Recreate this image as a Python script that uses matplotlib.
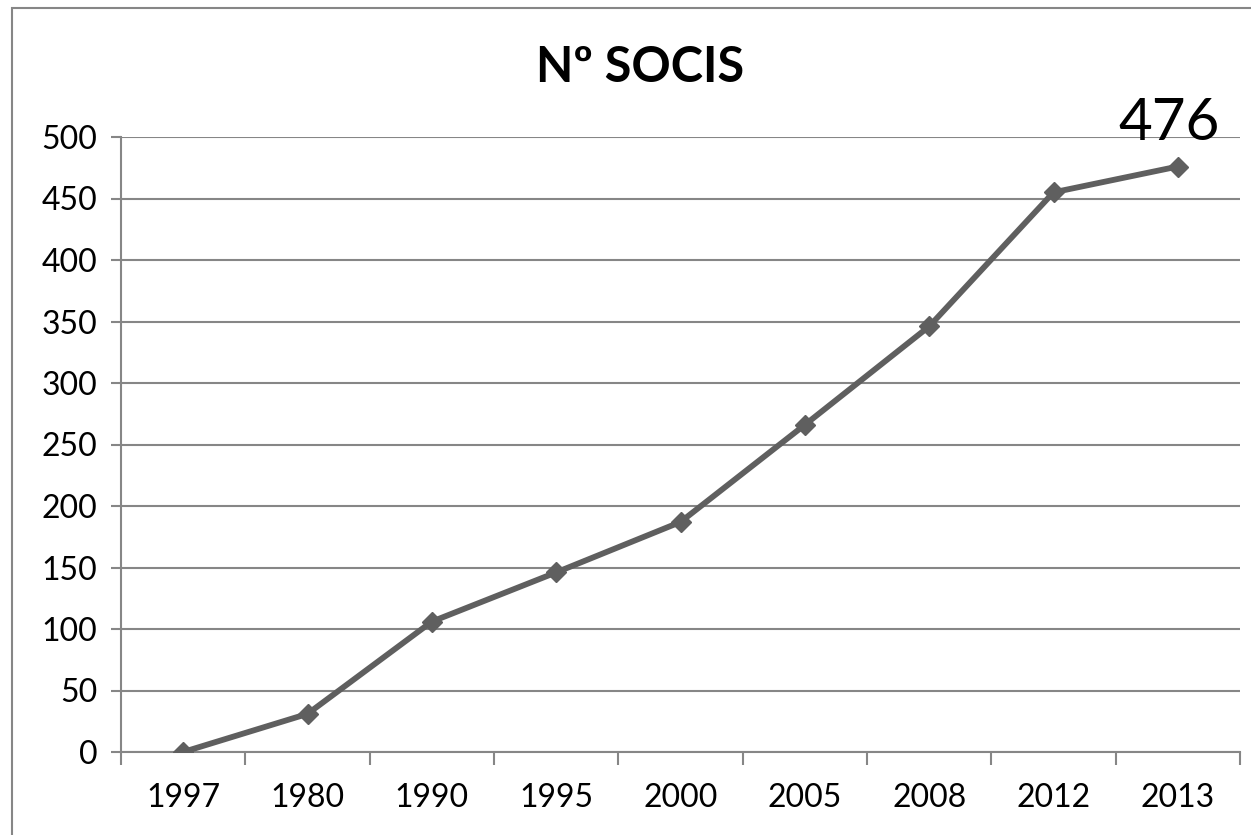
import matplotlib.pyplot as plt
from matplotlib.patches import Rectangle

# data
years = ['1997', '1980', '1990', '1995', '2000', '2005', '2008', '2012', '2013']
socis = [0, 31, 106, 146, 187, 266, 346, 455, 476]
yticks = [0, 50, 100, 150, 200, 250, 300, 350, 400, 450, 500]

plt.rcParams['font.family'] = ['Lato', 'DejaVu Sans']

fig = plt.figure(figsize=(12.51, 8.35), dpi=100)
ax = fig.add_axes([121/1251, 1 - 752/835, (1240 - 121)/1251, (752 - 137)/835])

# outer chart border (Excel-like frame)
fig.patches.append(Rectangle((12/1251, -0.05), 1.1, 1 - 8/835 + 0.05, transform=fig.transFigure,
                             fill=False, edgecolor='#868686', linewidth=1.5))

x = list(range(len(years)))
ax.plot(x, socis, color='#5f5f5f', linewidth=4.2, marker='D', markersize=10.5, zorder=3)

ax.set_xlim(-0.5, len(years) - 0.5)
ax.set_ylim(0, 500)
ax.set_yticks(yticks)
ax.set_yticklabels([str(v) for v in yticks], fontsize=23)
ax.set_xticks(x)
ax.set_xticklabels(years, fontsize=23)
ax.tick_params(axis='x', length=0, pad=22)
ax.set_xticks([i - 0.5 for i in range(len(years) + 1)], minor=True)
ax.tick_params(axis='x', which='minor', length=9, color='#868686', width=1.5)
ax.tick_params(axis='y', length=7, color='#868686', width=1.5, pad=10)

ax.grid(axis='y', color='#868686', linewidth=1.5)
ax.set_axisbelow(True)
for s in ['top', 'right']:
    ax.spines[s].set_visible(False)
ax.spines['left'].set_color('#868686')
ax.spines['left'].set_linewidth(1.5)
ax.spines['bottom'].set_color('#868686')
ax.spines['bottom'].set_linewidth(1.5)

# data label for last point
ax.annotate(str(socis[-1]), (x[-1], socis[-1]), xytext=(-6, 12), textcoords='offset points',
            ha='center', va='bottom', fontsize=42)

fig.text(640/1251, 1 - 68/835, 'Nº SOCIS', ha='center', va='center', fontsize=35, fontweight='bold')

fig.savefig('out.png', dpi=100)
